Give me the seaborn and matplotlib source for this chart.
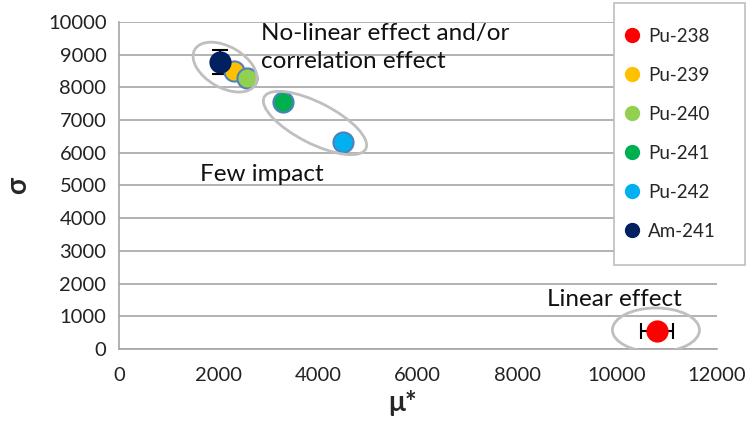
import numpy as np
import pandas as pd
import seaborn as sns
import matplotlib.pyplot as plt
import matplotlib.transforms as mtransforms
from matplotlib.patches import Ellipse, Rectangle
from matplotlib.lines import Line2D

# data
nuclides = ['Pu-238', 'Pu-239', 'Pu-240', 'Pu-241', 'Pu-242', 'Am-241']
mu_star = [10800, 2310, 2570, 3290, 4500, 2030]
sigma = [550, 8500, 8290, 7550, 6330, 8780]
mu_err = [320, 0, 0, 0, 0, 0]
sigma_err = [0, 0, 0, 0, 0, 370]
colors = ['#FF0000', '#FFC000', '#92D050', '#00B050', '#00B0F0', '#002060']
edges = ['#FF0000', '#4F81BD', '#4F81BD', '#4F81BD', '#4F81BD', '#002060']

df = pd.DataFrame({'nuclide': nuclides, 'mu': mu_star, 'sigma': sigma,
                   'xerr': mu_err, 'yerr': sigma_err})

sns.set_style('white')
plt.rcParams['font.family'] = ['Lato', 'DejaVu Sans']

fig = plt.figure(figsize=(7.46, 4.23), dpi=100)
ax = fig.add_axes([0.1595, 0.175, 0.801, 0.773])

# error bars first so markers sit on top
for i, r in df.iterrows():
    if r['xerr'] > 0 or r['yerr'] > 0:
        ax.errorbar(r['mu'], r['sigma'], xerr=r['xerr'] or None, yerr=r['yerr'] or None,
                    fmt='none', ecolor='black', elinewidth=1.5, capsize=6, capthick=1.5, zorder=3)

for i, r in df.iterrows():
    sns.scatterplot(x=[r['mu']], y=[r['sigma']], color=colors[i], edgecolor=edges[i],
                    linewidth=1.5, s=210, ax=ax, zorder=4, legend=False)

ax.set_xlim(0, 12000)
ax.set_ylim(0, 10000)
ax.set_xticks(np.arange(0, 12001, 2000))
ax.set_yticks(np.arange(0, 10001, 1000))
ax.yaxis.grid(True, color='#A6A6A6', linewidth=1.2)
ax.set_axisbelow(True)
for s in ['top', 'right']:
    ax.spines[s].set_visible(False)
for s in ['left', 'bottom']:
    ax.spines[s].set_color('#A6A6A6')
    ax.spines[s].set_linewidth(1.2)
ax.tick_params(axis='both', direction='out', length=6, width=1.2, color='#A6A6A6',
               labelsize=14.5, labelcolor='#222222', pad=3)
ax.tick_params(axis='x', pad=7)
ax.set_xlabel('μ*', fontsize=20, fontweight='bold', va='center')
ax.xaxis.set_label_coords(0.475, -0.165)
ax.set_ylabel('σ', fontsize=20, fontweight='bold', labelpad=12)

# grey ellipses (sizes in inches, centred on data positions)
ell = [(2130, 8620, 0.70, 0.41, -30), (3936, 6911, 1.14, 0.41, -27), (10783, 581, 0.87, 0.44, 0)]
for xc, yc, w, h, ang in ell:
    tr = fig.dpi_scale_trans + mtransforms.ScaledTranslation(xc, yc, ax.transData)
    ax.add_patch(Ellipse((0, 0), w, h, angle=ang, transform=tr, fill=False,
                         edgecolor='#BFBFBF', linewidth=2, zorder=5))

ax.text(2850, 9220, 'No-linear effect and/or\ncorrelation effect', fontsize=17.5,
        ha='left', va='center', linespacing=1.4, color='#111111')
ax.text(1630, 5330, 'Few impact', fontsize=17.5, ha='left', va='center', color='#111111')
ax.text(8600, 1520, 'Linear effect', fontsize=17.5, ha='left', va='center', color='#111111')

# legend box drawn separately so the padding matches
fig.patches.append(Rectangle((0.823, 0.3735), 0.1756, 0.619, transform=fig.transFigure,
                             fill=True, facecolor='white', edgecolor='#BFBFBF',
                             linewidth=1.2, zorder=6))
handles = [Line2D([], [], marker='o', linestyle='none', markersize=10,
                  markerfacecolor=c, markeredgecolor=c) for c in colors]
leg = fig.legend(handles, nuclides, loc='upper left', bbox_to_anchor=(0.8346, 0.934),
                 fontsize=13.5, frameon=False, labelspacing=1.17,
                 handletextpad=0.37, borderpad=0, handlelength=1.0, borderaxespad=0)
leg.set_zorder(7)

fig.savefig('out.png', dpi=100)
